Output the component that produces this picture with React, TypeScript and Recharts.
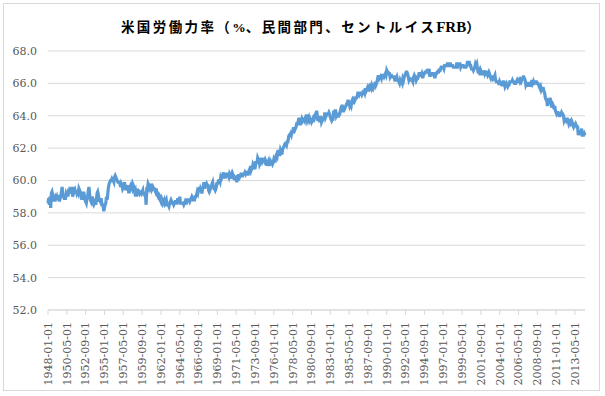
import React from 'react'
import { LineChart, Line, XAxis, YAxis, CartesianGrid } from 'recharts'

// monthly civilian labor force participation rate (%), 1948-01 .. 2014-08
const firstYear = 1948
const yearlyValues: number[][] = [
  [58.6, 58.9, 58.5, 59.0, 58.3, 59.2, 59.3, 59.1, 59.0, 58.7, 58.9, 59.0],
  [58.9, 59.0, 58.8, 59.1, 58.9, 58.7, 58.9, 59.0, 59.3, 59.6, 59.1, 59.0],
  [58.9, 58.9, 58.9, 59.2, 59.1, 59.1, 59.1, 59.5, 59.2, 59.6, 59.3, 59.3],
  [59.2, 59.0, 59.6, 59.3, 59.4, 59.2, 59.4, 59.2, 59.3, 59.2, 59.5, 59.4],
  [59.3, 59.2, 58.9, 58.9, 59.1, 59.3, 59.1, 58.8, 58.7, 58.6, 58.9, 59.0],
  [59.4, 59.6, 59.1, 58.8, 58.7, 58.9, 59.0, 58.6, 58.5, 58.6, 58.7, 58.5],
  [58.8, 59.2, 59.3, 59.1, 58.7, 58.8, 58.7, 58.9, 58.6, 58.5, 58.4, 58.1],
  [58.3, 58.5, 58.6, 59.0, 58.8, 59.2, 59.6, 59.8, 59.9, 60.0, 60.0, 60.1],
  [60.0, 60.0, 59.9, 60.2, 60.3, 60.2, 60.1, 60.0, 59.9, 59.9, 59.9, 59.8],
  [59.6, 59.8, 59.7, 59.5, 59.6, 59.7, 59.9, 59.4, 59.5, 59.5, 59.6, 59.7],
  [59.3, 59.3, 59.6, 59.7, 59.6, 59.5, 59.8, 59.7, 59.5, 59.3, 59.4, 59.1],
  [59.1, 59.4, 59.4, 59.3, 59.2, 59.3, 59.3, 59.2, 59.3, 59.4, 59.1, 59.3],
  [59.1, 59.1, 58.5, 59.5, 59.5, 59.8, 59.7, 59.5, 59.6, 59.5, 59.8, 59.5],
  [59.6, 59.5, 59.5, 59.4, 59.3, 59.5, 59.2, 59.1, 59.0, 59.1, 59.0, 58.8],
  [58.7, 58.9, 58.8, 58.6, 58.7, 58.8, 58.6, 58.7, 58.8, 58.5, 58.5, 58.5],
  [58.4, 58.6, 58.7, 58.8, 58.7, 58.6, 58.6, 58.5, 58.6, 58.7, 58.7, 58.6],
  [58.6, 58.9, 58.7, 58.7, 59.0, 58.6, 58.6, 58.6, 58.6, 58.6, 58.5, 58.6],
  [58.7, 58.6, 58.6, 58.8, 58.8, 58.8, 58.8, 58.7, 58.8, 58.9, 59.0, 58.9],
  [58.8, 58.8, 58.8, 59.0, 59.0, 59.1, 59.3, 59.2, 59.4, 59.6, 59.3, 59.5],
  [59.4, 59.2, 59.5, 59.6, 59.9, 59.5, 59.7, 59.7, 59.8, 59.7, 59.7, 59.4],
  [59.3, 59.4, 59.6, 59.6, 59.8, 59.9, 59.6, 59.5, 59.5, 59.4, 59.5, 59.8],
  [59.8, 59.9, 60.0, 60.0, 59.9, 60.2, 60.1, 60.2, 60.3, 60.5, 60.2, 60.2],
  [60.2, 60.4, 60.4, 60.4, 60.3, 60.2, 60.4, 60.3, 60.1, 60.4, 60.5, 60.4],
  [60.3, 60.1, 60.1, 60.3, 60.1, 59.9, 60.1, 60.3, 60.3, 60.2, 60.3, 60.4],
  [60.4, 60.2, 60.4, 60.4, 60.4, 60.5, 60.4, 60.5, 60.5, 60.4, 60.4, 60.6],
  [60.7, 60.6, 60.9, 60.7, 60.8, 61.0, 60.9, 60.8, 60.7, 61.1, 61.1, 61.1],
  [61.4, 61.3, 61.3, 61.0, 61.1, 61.1, 61.4, 61.2, 61.3, 61.3, 61.2, 61.3],
  [61.2, 61.0, 61.0, 61.1, 61.2, 60.9, 61.1, 61.2, 61.1, 61.1, 61.0, 61.1],
  [61.3, 61.2, 61.2, 61.5, 61.6, 61.5, 61.8, 61.8, 61.6, 61.6, 61.9, 61.8],
  [61.6, 61.9, 62.0, 62.1, 62.2, 62.3, 62.3, 62.2, 62.4, 62.4, 62.7, 62.8],
  [62.8, 62.9, 62.8, 63.0, 63.0, 63.2, 63.2, 63.1, 63.2, 63.3, 63.5, 63.5],
  [63.6, 63.8, 63.8, 63.5, 63.5, 63.6, 63.8, 63.7, 63.8, 63.8, 63.7, 63.9],
  [64.0, 64.0, 63.7, 63.8, 63.9, 63.7, 63.8, 63.7, 63.6, 63.7, 63.8, 63.6],
  [63.9, 63.9, 64.1, 64.2, 64.3, 63.7, 63.8, 63.8, 63.6, 63.9, 63.9, 63.6],
  [63.7, 63.8, 63.8, 63.9, 64.2, 63.9, 64.0, 64.1, 64.1, 64.1, 64.2, 64.1],
  [63.9, 63.8, 63.7, 63.8, 63.7, 64.3, 64.1, 64.3, 64.3, 64.0, 64.1, 64.1],
  [63.9, 64.1, 64.1, 64.3, 64.5, 64.6, 64.6, 64.3, 64.3, 64.4, 64.5, 64.6],
  [64.7, 64.7, 64.9, 64.9, 64.8, 64.6, 64.7, 64.6, 64.9, 65.0, 64.9, 65.0],
  [64.9, 65.0, 65.1, 65.1, 65.2, 65.4, 65.4, 65.3, 65.4, 65.4, 65.4, 65.3],
  [65.4, 65.5, 65.5, 65.4, 65.7, 65.5, 65.6, 65.7, 65.5, 65.7, 65.8, 65.7],
  [65.8, 65.9, 65.7, 65.8, 65.7, 65.8, 65.9, 66.1, 65.9, 66.0, 66.2, 66.1],
  [66.5, 66.3, 66.3, 66.4, 66.3, 66.5, 66.5, 66.5, 66.4, 66.5, 66.6, 66.5],
  [66.8, 66.7, 66.7, 66.6, 66.6, 66.4, 66.5, 66.5, 66.4, 66.4, 66.4, 66.4],
  [66.2, 66.2, 66.3, 66.4, 66.2, 66.2, 66.1, 66.0, 66.2, 66.1, 66.1, 66.0],
  [66.3, 66.2, 66.4, 66.5, 66.6, 66.7, 66.7, 66.6, 66.4, 66.2, 66.3, 66.3],
  [66.2, 66.2, 66.2, 66.1, 66.4, 66.5, 66.4, 66.4, 66.2, 66.3, 66.3, 66.4],
  [66.6, 66.6, 66.5, 66.5, 66.6, 66.4, 66.4, 66.6, 66.6, 66.7, 66.7, 66.7],
  [66.8, 66.8, 66.7, 66.9, 66.5, 66.5, 66.6, 66.6, 66.6, 66.6, 66.5, 66.4],
  [66.4, 66.6, 66.6, 66.7, 66.7, 66.7, 66.9, 66.7, 66.9, 67.0, 67.0, 67.0],
  [67.0, 66.9, 67.1, 67.1, 67.1, 67.1, 67.2, 67.2, 67.1, 67.1, 67.2, 67.2],
  [67.1, 67.1, 67.1, 67.0, 67.0, 67.0, 67.0, 67.0, 67.2, 67.2, 67.1, 67.2],
  [67.2, 67.2, 67.0, 67.1, 67.1, 67.1, 67.1, 67.0, 67.0, 67.0, 67.0, 67.1],
  [67.3, 67.3, 67.3, 67.3, 67.1, 67.1, 66.9, 66.9, 66.9, 66.8, 66.9, 67.0],
  [67.2, 67.1, 67.2, 66.9, 66.7, 66.7, 66.8, 66.5, 66.8, 66.7, 66.7, 66.7],
  [66.5, 66.8, 66.6, 66.7, 66.7, 66.6, 66.5, 66.6, 66.7, 66.6, 66.4, 66.3],
  [66.4, 66.4, 66.3, 66.4, 66.4, 66.5, 66.2, 66.1, 66.1, 66.1, 66.1, 65.9],
  [66.1, 66.0, 66.0, 65.9, 65.9, 66.1, 66.1, 66.0, 65.8, 65.9, 66.0, 65.9],
  [65.8, 65.9, 65.9, 66.1, 66.1, 66.1, 66.1, 66.2, 66.1, 66.1, 66.0, 66.0],
  [66.0, 66.1, 66.2, 66.1, 66.1, 66.2, 66.1, 66.2, 66.1, 66.2, 66.3, 66.4],
  [66.4, 66.3, 66.2, 65.9, 66.0, 66.0, 66.0, 65.8, 66.0, 65.8, 66.0, 66.0],
  [66.2, 66.0, 66.1, 65.9, 66.1, 66.1, 66.1, 66.1, 66.0, 66.0, 65.9, 65.8],
  [65.7, 65.8, 65.6, 65.7, 65.7, 65.7, 65.5, 65.4, 65.1, 65.0, 65.0, 64.6],
  [64.8, 64.9, 64.9, 65.1, 64.9, 64.6, 64.6, 64.7, 64.6, 64.4, 64.6, 64.3],
  [64.2, 64.1, 64.2, 64.2, 64.1, 64.0, 64.0, 64.1, 64.2, 64.1, 64.1, 64.0],
  [63.7, 63.8, 63.8, 63.7, 63.8, 63.8, 63.7, 63.5, 63.6, 63.8, 63.6, 63.7],
  [63.6, 63.4, 63.3, 63.4, 63.4, 63.5, 63.4, 63.3, 63.3, 62.8, 63.0, 62.8],
  [63.0, 63.0, 63.2, 62.8, 62.8, 62.8, 62.9, 62.8],
]

const yTicks = [52, 54, 56, 58, 60, 62, 64, 66, 68]

const data = yearlyValues.flatMap((row, yi) =>
  row.map((v, mi) => ({
    date: `${firstYear + yi}-${String(mi + 1).padStart(2, '0')}-01`,
    v,
  }))
)

const serif = '"DejaVu Serif", "Liberation Serif", serif'

const DateTick = ({ x, y, payload }: any) => (
  <g transform={`translate(${x},${y + 5})`}>
    <text transform="rotate(-90)" textAnchor="end" dy="0.35em" fontSize={11} fontFamily={serif} fill="#595959">
      {payload.value}
    </text>
  </g>
)

const tight = { letterSpacing: 0 }

export default function App() {
  return (
    <div style={{ position: 'absolute', left: 3, top: 3, width: 597, height: 388, border: '1px solid #d9d9d9', boxSizing: 'border-box', background: '#fff' }}>
      <div style={{
        position: 'absolute', left: -1, top: 15, width: 597, textAlign: 'center',
        fontFamily: '"Liberation Serif", "Noto Sans CJK JP", serif', fontWeight: 'bold',
        fontSize: 13.5, letterSpacing: 2.4, lineHeight: '16px', color: '#000',
      }}>
        米国労働力率（<span style={tight}>%</span>、民間部門、セントルイス<span style={{ ...tight, fontSize: 15 }}>FRB</span>）
      </div>
      <div style={{ position: 'absolute', left: -1, top: -1 }}>
        <LineChart width={597} height={388} data={data} margin={{ top: 48, right: 15, bottom: 0, left: 0 }}>
          <CartesianGrid vertical={false} stroke="#d9d9d9" />
          <XAxis
            dataKey="date"
            interval={27}
            height={81}
            stroke="#d9d9d9"
            tickSize={5}
            tickMargin={2}
            tick={<DateTick />}
          />
          <YAxis
            domain={[52, 68]}
            ticks={yTicks}
            width={45}
            axisLine={false}
            tickLine={false}
            tickSize={0}
            tickMargin={11}
            tickFormatter={(v: number) => v.toFixed(1)}
            tick={{ fontSize: 11, fontFamily: serif, fill: '#595959' }}
          />
          <Line type="linear" dataKey="v" stroke="#5b9bd5" strokeWidth={3.2} dot={false} isAnimationActive={false} />
        </LineChart>
      </div>
    </div>
  )
}
